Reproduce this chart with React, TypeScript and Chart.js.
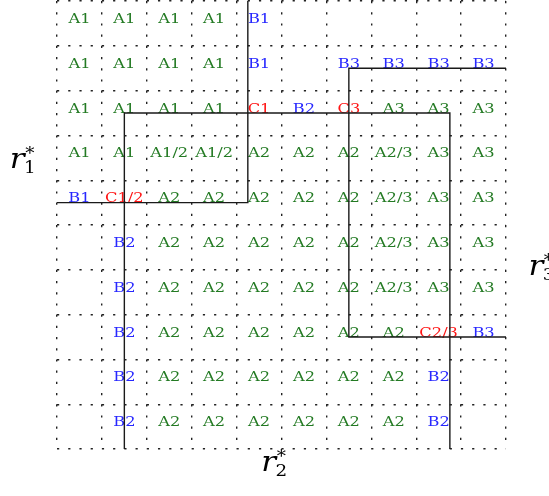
import React, { useEffect, useRef } from 'react';
import { Chart, registerables } from 'chart.js';

Chart.register(...registerables);

// Cell labels, row by row from the top, columns left to right
const row0 = ['A1', 'A1', 'A1', 'A1', 'B1', '', '', '', '', ''];
const row1 = ['A1', 'A1', 'A1', 'A1', 'B1', '', 'B3', 'B3', 'B3', 'B3'];
const row2 = ['A1', 'A1', 'A1', 'A1', 'C1', 'B2', 'C3', 'A3', 'A3', 'A3'];
const row3 = ['A1', 'A1', 'A1/2', 'A1/2', 'A2', 'A2', 'A2', 'A2/3', 'A3', 'A3'];
const row4 = ['B1', 'C1/2', 'A2', 'A2', 'A2', 'A2', 'A2', 'A2/3', 'A3', 'A3'];
const row5 = ['', 'B2', 'A2', 'A2', 'A2', 'A2', 'A2', 'A2/3', 'A3', 'A3'];
const row6 = ['', 'B2', 'A2', 'A2', 'A2', 'A2', 'A2', 'A2/3', 'A3', 'A3'];
const row7 = ['', 'B2', 'A2', 'A2', 'A2', 'A2', 'A2', 'A2', 'C2/3', 'B3'];
const row8 = ['', 'B2', 'A2', 'A2', 'A2', 'A2', 'A2', 'A2', 'B2', ''];
const row9 = ['', 'B2', 'A2', 'A2', 'A2', 'A2', 'A2', 'A2', 'B2', ''];
const cellRows = [row0, row1, row2, row3, row4, row5, row6, row7, row8, row9];

// Region boundaries (grid units, y counted from the top)
const boundaryR1 = [
  { x: 4.25, y: 0 },
  { x: 4.25, y: 4.5 },
  { x: 0, y: 4.5 },
];
const boundaryR2 = [
  { x: 1.5, y: 10 },
  { x: 1.5, y: 2.5 },
  { x: 8.75, y: 2.5 },
  { x: 8.75, y: 10 },
];
const boundaryR3 = [
  { x: 10, y: 1.5 },
  { x: 6.5, y: 1.5 },
  { x: 6.5, y: 7.5 },
  { x: 10, y: 7.5 },
];

// Axis annotations: [subscript, x value, y value]
const regionTitles: [string, number, number][] = [
  ['1', -1.05, 3.73],
  ['2', 4.55, 10.5],
  ['3', 10.5, 6.12],
];

const GREEN = '#237a23';
const BLUE = '#2727ff';
const RED = '#ff1414';

function colorOf(label: string): string {
  if (label.startsWith('A')) return GREEN;
  if (label.startsWith('B')) return BLUE;
  return RED;
}

const cellLabelPlugin = {
  id: 'cellLabels',
  beforeDatasetsDraw(chart: any) {
    const { ctx, scales } = chart;
    const xs = scales.x;
    const ys = scales.y;
    const stretch = 1.27;
    ctx.save();
    ctx.font = '12.8px "DejaVu Serif"';
    ctx.textAlign = 'center';
    ctx.textBaseline = 'alphabetic';
    cellRows.forEach((row, r) => {
      row.forEach((lab, c) => {
        if (!lab) return;
        const px = xs.getPixelForValue(c + 0.5);
        const py = ys.getPixelForValue(r + 0.5) - 0.5;
        ctx.save();
        ctx.translate(px, py);
        ctx.scale(stretch, 1);
        ctx.fillStyle = colorOf(lab);
        ctx.fillText(lab, 0, 0);
        ctx.restore();
      });
    });
    ctx.restore();
  },
  afterDraw(chart: any) {
    const { ctx, scales } = chart;
    const xs = scales.x;
    const ys = scales.y;
    ctx.save();
    ctx.fillStyle = '#000';
    ctx.textBaseline = 'alphabetic';
    ctx.textAlign = 'left';
    regionTitles.forEach(([sub, xv, yv]) => {
      const px = xs.getPixelForValue(xv);
      const py = ys.getPixelForValue(yv);
      ctx.save();
      ctx.translate(px, py);
      ctx.scale(1.15, 1);
      ctx.font = 'italic 27px "DejaVu Serif"';
      const w = ctx.measureText('r').width;
      ctx.fillText('r', 0, 0);
      ctx.font = '16px "DejaVu Serif"';
      ctx.fillText('*', w + 0.5, -9);
      ctx.fillText(sub, w - 0.5, 5);
      ctx.restore();
    });
    ctx.restore();
  },
};

export default function App() {
  const canvasRef = useRef<HTMLCanvasElement | null>(null);

  useEffect(() => {
    if (!canvasRef.current) return;
    const lineStyle = {
      showLine: true,
      pointRadius: 0,
      pointHoverRadius: 0,
      borderColor: '#1a1a1a',
      borderWidth: 1.4,
      fill: false,
      clip: false as any,
    };
    const gridStyle = {
      color: '#222',
      lineWidth: 1.4,
      drawTicks: false,
    };
    const chart = new Chart(canvasRef.current, {
      type: 'scatter',
      data: {
        datasets: [
          { ...lineStyle, data: boundaryR1 },
          { ...lineStyle, data: boundaryR2 },
          { ...lineStyle, data: boundaryR3 },
        ],
      },
      options: {
        animation: false,
        responsive: false,
        devicePixelRatio: 1,
        layout: { padding: { left: 57, right: 43, top: 1, bottom: 47 } },
        plugins: {
          legend: { display: false },
          tooltip: { enabled: false },
        },
        scales: {
          x: {
            type: 'linear',
            min: 0,
            max: 10,
            ticks: { display: false, stepSize: 1 },
            grid: gridStyle,
            border: { display: false, dash: [2.2, 9.0] },
          },
          y: {
            type: 'linear',
            reverse: true,
            min: 0,
            max: 10,
            ticks: { display: false, stepSize: 1 },
            grid: gridStyle,
            border: { display: false, dash: [2.2, 9.02] },
          },
        },
      },
      plugins: [cellLabelPlugin],
    });
    return () => chart.destroy();
  }, []);

  return (
    <div style={{ position: 'fixed', left: 0, top: 0, width: 549, height: 496, background: '#fff' }}>
      <canvas ref={canvasRef} width={549} height={496} />
    </div>
  );
}
